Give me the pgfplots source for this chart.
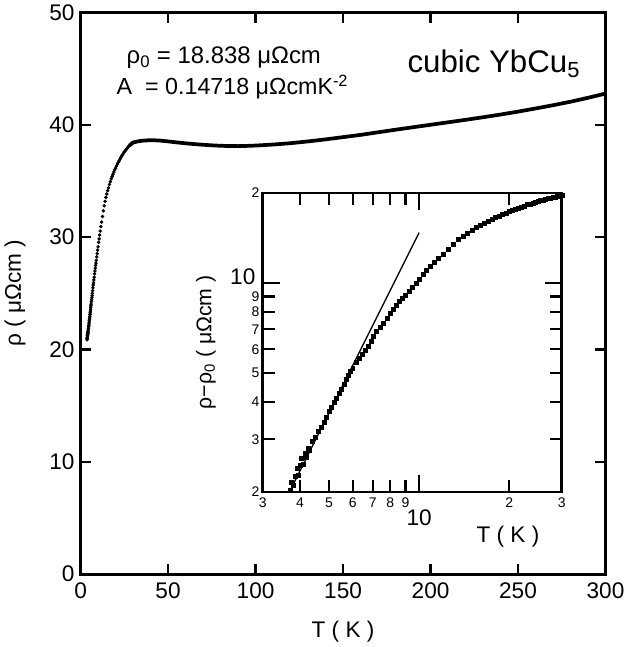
\documentclass[border=0pt]{standalone}
\usepackage{fontspec}
\setmainfont{Liberation Sans}
\usepackage{pgfplots}
\pgfplotsset{compat=1.18}
\usepackage{pgfplotstable}

\pgfplotstableread{
T v
3.70 2.02
3.75 2.15
3.80 2.10
3.85 2.25
3.90 2.40
3.95 2.28
4.00 2.45
4.05 2.60
4.10 2.48
4.15 2.70
4.20 2.62
4.25 2.80
4.30 2.75
4.40 2.95
4.50 3.05
4.60 3.20
4.70 3.30
4.80 3.42
4.90 3.55
5.00 3.72
5.10 3.85
5.20 3.98
5.30 4.12
5.40 4.28
5.50 4.42
5.60 4.58
5.70 4.75
5.80 4.92
5.90 5.06
6.00 5.20
6.15 5.42
6.30 5.60
6.45 5.78
6.60 5.95
6.75 6.15
6.90 6.40
7.05 6.65
7.20 6.90
7.40 7.10
7.60 7.35
7.80 7.60
8.00 7.90
8.20 8.15
8.40 8.40
8.60 8.65
8.80 8.85
9.00 9.10
9.25 9.40
9.50 9.70
9.75 10.00
10.00 10.30
10.30 10.70
10.60 11.00
10.90 11.35
11.20 11.70
11.60 12.10
12.00 12.50
12.50 13.00
13.00 13.50
13.50 13.95
14.00 14.35
14.50 14.70
15.00 15.00
15.50 15.30
16.00 15.55
16.50 15.85
17.00 16.10
17.50 16.35
18.00 16.55
18.50 16.75
19.00 16.95
19.50 17.15
20.00 17.30
20.50 17.48
21.00 17.65
21.50 17.80
22.00 17.95
22.50 18.10
23.00 18.25
23.50 18.38
24.00 18.50
24.50 18.62
25.00 18.75
25.50 18.85
26.00 18.95
26.50 19.05
27.00 19.15
27.50 19.25
28.00 19.32
28.50 19.40
29.00 19.47
29.50 19.52
30.00 19.58
}\lowT

\pgfplotstableread{
T rho
28 38.16
30 38.42
32 38.50
35 38.58
40 38.63
45 38.60
50 38.52
55 38.43
60 38.35
65 38.28
70 38.22
75 38.17
80 38.13
85 38.11
90 38.10
95 38.12
100 38.15
110 38.24
120 38.36
130 38.52
140 38.70
150 38.90
160 39.10
170 39.33
180 39.56
190 39.78
200 40.00
210 40.22
220 40.44
230 40.67
240 40.91
250 41.17
260 41.45
270 41.74
280 42.05
290 42.40
300 42.78
}\highT

\pgfplotstableread{
T v
3.686 2.0
10.0 14.718
}\fitline

\begin{document}
\begin{tikzpicture}
\begin{axis}[
  name=main,
  scale only axis,
  width=394.9pt, height=422.6pt,
  xmin=0, xmax=300, ymin=0, ymax=50,
  xtick={0,50,...,300}, ytick={0,10,...,50},
  tick align=inside,
  major tick length=8pt,
  axis line style={line width=2pt},
  major tick style={line width=1.6pt, black},
  /pgf/number format/assume math mode=true,
  tick label style={font=\fontsize{17}{20}\selectfont},
  xticklabel style={yshift=-3pt},
  yticklabel style={xshift=-1pt},
  xlabel={T ( K )},
  ylabel={ρ ( μΩcm )},
  every axis x label/.style={at={(axis description cs:0.5,-0.103)}, anchor=center, font=\fontsize{17}{20}\selectfont},
  every axis y label/.style={at={(axis description cs:-0.125,0.5)}, rotate=90, anchor=center, font=\fontsize{17}{20}\selectfont},
]
\addplot[only marks, mark=*, mark size=1.1pt, black] table[x=T, y expr=\thisrow{v}+18.838] {\lowT};
\addplot[black, line width=2.8pt, line join=round] table[x=T, y=rho] {\highT};
\node[anchor=base west, inner sep=0pt, font=\fontsize{18}{20}\selectfont] at (axis cs:26.2,45.47) {ρ\textsubscript{0} = 18.838 μΩcm};
\node[anchor=base west, inner sep=0pt, font=\fontsize{17.5}{20}\selectfont] at (axis cs:20.5,42.66) {A\ \ = 0.14718 μΩcmK\textsuperscript{-2}};
\node[anchor=base west, inner sep=0pt, font=\fontsize{23.5}{26}\selectfont] at (axis cs:186.7,44.68) {cubic YbCu\textsubscript{5}};
\coordinate (insetpos) at (axis cs:104.1,7.32);
\end{axis}

\begin{axis}[
  at={(insetpos)}, anchor=south west,
  scale only axis,
  width=225pt, height=225pt,
  xmode=log, ymode=log,
  xmin=3, xmax=30, ymin=2, ymax=20,
  xtick={3,4,5,6,7,8,9,20,30},
  xticklabels={3,4,5,6,7,8,9,2,3},
  ytick={2,3,4,5,6,7,8,9,20},
  yticklabels={2,3,4,5,6,7,8,9,2},
  extra x ticks={10}, extra x tick labels={10},
  extra y ticks={10}, extra y tick labels={10},
  extra x tick style={major tick length=13pt, tick label style={font=\fontsize{17}{20}\selectfont, yshift=-9pt}},
  extra y tick style={major tick length=13pt, tick label style={font=\fontsize{17}{20}\selectfont, xshift=-3pt, yshift=5pt}},
  tick align=inside,
  major tick length=9pt,
  axis line style={line width=2pt},
  major tick style={line width=1.6pt, black},
  /pgf/number format/assume math mode=true,
  tick label style={font=\fontsize{10.5}{12}\selectfont},
  xticklabel style={yshift=-1pt},
  yticklabel style={xshift=1pt},
  xlabel={T ( K )},
  ylabel={ρ−ρ\textsubscript{0} ( μΩcm )},
  every axis x label/.style={at={(axis description cs:0.82,-0.15)}, anchor=center, font=\fontsize{17}{20}\selectfont},
  every axis y label/.style={at={(axis description cs:-0.19,0.5)}, rotate=90, anchor=center, font=\fontsize{16}{18}\selectfont},
]
\addplot[only marks, mark=square*, mark size=1.5pt, black] table[x=T, y=v] {\lowT};
\addplot[black, line width=1pt] table[x=T, y=v] {\fitline};
\end{axis}
\end{tikzpicture}
\end{document}
